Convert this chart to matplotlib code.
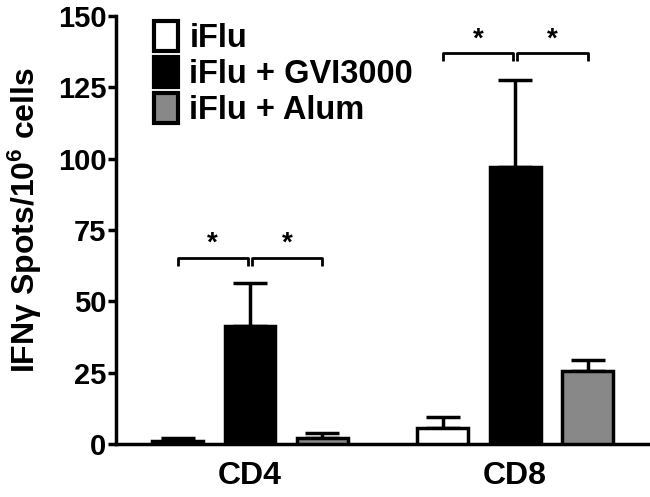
import matplotlib
matplotlib.use("Agg")
import matplotlib.pyplot as plt
import numpy as np

# data
grupos = ["CD4", "CD8"]
series = ["iFlu", "iFlu + GVI3000", "iFlu + Alum"]
medias = {
    "iFlu": [1.0, 5.6],
    "iFlu + GVI3000": [41.3, 97.0],
    "iFlu + Alum": [2.2, 25.6],
}
erros = {
    "iFlu": [1.0, 3.9],
    "iFlu + GVI3000": [15.0, 30.5],
    "iFlu + Alum": [1.6, 3.8],
}
cores = ["white", "black", "#888888"]
yticks = [0, 25, 50, 75, 100, 125, 150]

plt.rcParams["font.family"] = ["Liberation Sans", "DejaVu Sans"]
plt.rcParams["font.weight"] = "bold"
plt.rcParams["mathtext.fontset"] = "custom"
plt.rcParams["mathtext.rm"] = "Liberation Sans:bold"
plt.rcParams["mathtext.bf"] = "Liberation Sans:bold"
plt.rcParams["mathtext.it"] = "Liberation Sans:bold"

fig = plt.figure(figsize=(6.5, 4.97), dpi=100)
ax = fig.add_axes([116 / 650, 53 / 497, 534 / 650, 428 / 497])

lw = 2.5
pos_grupo = np.array([0.0, 3.66])
largura = 0.70
for i, s in enumerate(series):
    x = pos_grupo + (i - 1)
    ax.bar(x, medias[s], largura, color=cores[i], edgecolor="black",
           linewidth=lw, label=s, zorder=3)
    ax.errorbar(x, medias[s], yerr=[np.zeros(2), erros[s]], fmt="none",
                ecolor="black", elinewidth=lw, capsize=12, capthick=lw, zorder=2)

# brackets de significancia
def colchete(x1, x2, y, h=2.9):
    ax.plot([x1, x1, x2, x2], [y - h, y, y, y - h], color="black", lw=2, zorder=4,
            solid_capstyle="butt")
    ax.text((x1 + x2) / 2, y + 0.3, "*", ha="center", va="bottom",
            fontsize=20, fontweight="bold")

gap = 0.03
for g, yb in zip(pos_grupo, [65.2, 137.0]):
    colchete(g - 1, g - gap, yb)
    colchete(g + gap, g + 1, yb)

ax.set_xlim(-1.85, 5.52)
ax.set_ylim(0, 150)
ax.set_yticks(yticks)
ax.set_xticks(pos_grupo)
ax.set_xticklabels(grupos)
ax.tick_params(axis="y", width=lw, length=6, labelsize=21, pad=1)
ax.tick_params(axis="x", length=0, labelsize=23, pad=12)
for t in ax.get_yticklabels() + ax.get_xticklabels():
    t.set_fontweight("bold")
ax.spines["top"].set_visible(False)
ax.spines["right"].set_visible(False)
ax.spines["left"].set_linewidth(lw)
ax.spines["bottom"].set_linewidth(lw)
ax.set_ylabel("IFNγ Spots/10$^{6}$ cells", fontsize=23, fontweight="bold")
ax.yaxis.set_label_coords(-0.135, 0.523)

leg = ax.legend(loc="upper left", bbox_to_anchor=(0.041, 1.026), frameon=False,
                borderpad=0, handlelength=0.74, handleheight=1.04, handletextpad=0.34,
                labelspacing=0.08, prop={"size": 23.5, "weight": "bold"})
for h in leg.legend_handles:
    h.set_linewidth(3)

fig.savefig("out.png", dpi=100)
